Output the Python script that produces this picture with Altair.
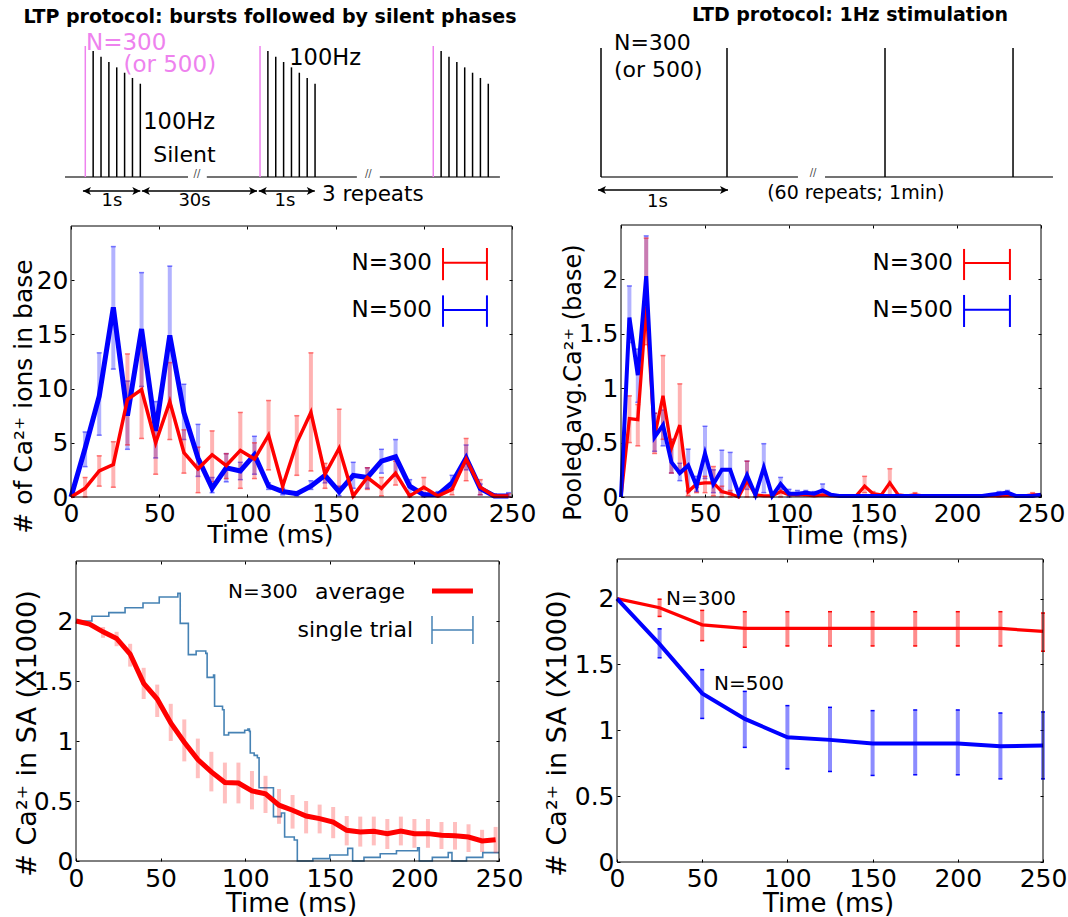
import altair as alt
import pandas as pd

W, H = 1068, 917
FONT = "DejaVu Sans"
RED, BLUE, PINK, STEEL, GREY = "#ff0000", "#0000ff", "#ee82ee", "#4682b4", "#444444"

# ---------------- data ----------------
# (c) LTP: # of Ca2+ ions in base
ltp_t = [0, 8, 16, 24, 32, 40, 48, 56, 64, 72, 80, 88, 96, 104, 112, 120,
         128, 136, 144, 152, 160, 168, 176, 184, 192, 200, 208, 216, 224, 232, 240, 248]
ltp_n500 = [0, 4.5, 9.3, 17.5, 7.5, 15.5, 6.1, 14.9, 7.8, 3.6, 0.8, 2.7, 2.4, 3.9, 1.0, 0.5,
            0.3, 1.0, 2.0, 0.5, 2.0, 1.8, 3.3, 3.7, 1.0, 0.2, 0.2, 1.3, 3.6, 0.8, 0.1, 0.1]
ltp_n300 = [0, 0.8, 2.4, 3.0, 9.0, 9.9, 5.0, 8.8, 4.1, 2.6, 3.9, 2.9, 4.3, 3.5, 5.7, 1.0,
            5.0, 7.8, 2.1, 4.5, 0.1, 1.8, 0.8, 2.2, 0.1, 0.9, 0.1, 0.7, 3.5, 0.9, 0.1, 0.1]
ltp_err_t = ltp_t[1:]
ltp_n500_lo = [2.8, 5.7, 11.8, 4.4, 10.2, 3.6, 8.4, 5.3, 1.9, 0.4, 1.4, 1.6, 2.1, 0.7, 0.2,
               0.1, 0.7, 1.3, 0.1, 0.8, 0.8, 2.2, 1.9, 0.2, 0.0, 0.1, 0.7, 2.5, 0.2, 0.0, 0.05]
ltp_n500_hi = [6.0, 13.3, 23.1, 10.7, 20.7, 8.8, 21.3, 10.4, 6.7, 1.8, 4.0, 3.2, 5.6, 1.3, 0.8,
               0.5, 1.5, 2.7, 1.0, 3.2, 2.7, 4.4, 5.3, 1.6, 0.4, 0.5, 2.0, 4.8, 1.2, 0.2, 0.4]
ltp_n300_lo = [0.0, 1.0, 0.9, 4.8, 5.4, 2.1, 5.3, 2.2, 0.4, 1.4, 1.7, 0.8, 1.7, 2.5, 0.5,
               2.0, 2.4, 0.8, 0.9, 0.0, 0.7, 0.1, 1.1, 0.0, 0.05, 0.0, 0.2, 1.5, 0.2, 0.0, 0.0]
ltp_n300_hi = [1.8, 3.8, 5.1, 13.2, 14.5, 7.8, 12.4, 6.2, 4.6, 6.1, 4.0, 7.8, 5.0, 8.9, 1.5,
               7.5, 13.3, 3.1, 8.1, 0.3, 2.7, 1.8, 3.3, 0.3, 1.8, 0.3, 1.3, 5.4, 1.6, 0.3, 0.3]

# (d) LTD: pooled avg Ca2+ in base
ltd_t = list(range(0, 251, 5))
ltd_n300 = [0, 0.72, 0.71, 1.75, 0.56, 0.93, 0.45, 0.66, 0.05, 0.12, 0.13, 0.13, 0.05, 0.03,
            0.0, 0.15, 0.02, 0.01, 0.01, 0.05, 0.02, 0.02, 0.02, 0.01, 0.02, 0.01, 0.01, 0.01,
            0.01, 0.1, 0.03, 0.02, 0.13, 0.02, 0.01, 0.02, 0.01, 0.01, 0.01, 0.01, 0.01, 0.01,
            0.01, 0.01, 0.01, 0.01, 0.01, 0.01, 0.01, 0.02, 0.02]
ltd_n500 = [0, 1.65, 1.12, 2.03, 0.55, 0.66, 0.32, 0.22, 0.29, 0.1, 0.4, 0.12, 0.25, 0.25,
            0.03, 0.2, 0.02, 0.27, 0.01, 0.12, 0.03, 0.03, 0.04, 0.03, 0.06, 0.02, 0.01, 0.01,
            0.01, 0.01, 0.01, 0.01, 0.01, 0.01, 0.01, 0.01, 0.01, 0.01, 0.01, 0.01, 0.01, 0.01,
            0.01, 0.01, 0.02, 0.03, 0.04, 0.01, 0.01, 0.01, 0.02]
ltd_n500_err_t = [5, 10, 15, 20, 25, 30, 35, 40, 45, 50, 55, 60, 65, 70, 75, 80, 85, 90, 95,
                  100, 105, 110, 115, 120, 225, 230]
ltd_n500_lo = [1.42, 0.87, 1.72, 0.42, 0.47, 0.22, 0.15, 0.05, 0.05, 0.17, 0.04, 0.04, 0.04,
               0.0, 0.07, 0.0, 0.04, 0.0, 0.07, 0.0, 0.01, 0.01, 0.01, 0.01, 0.0, 0.01]
ltd_n500_hi = [1.94, 1.36, 2.4, 0.77, 0.8, 0.53, 0.31, 0.44, 0.19, 0.65, 0.25, 0.43, 0.41,
               0.06, 0.33, 0.05, 0.49, 0.03, 0.18, 0.07, 0.06, 0.06, 0.05, 0.12, 0.05, 0.06]
ltd_n300_err_t = [5, 10, 15, 20, 25, 30, 35, 40, 45, 50, 55, 60, 65, 75, 80, 95, 145, 150,
                  160, 175, 245]
ltd_n300_lo = [0.5, 0.47, 1.4, 0.4, 0.53, 0.22, 0.22, 0.01, 0.04, 0.04, 0.01, 0.0, 0.0, 0.0,
               0.0, 0.0, 0.04, 0.01, 0.01, 0.0, 0.0]
ltd_n300_hi = [0.93, 0.85, 2.38, 0.77, 1.3, 0.53, 1.04, 0.06, 0.09, 0.19, 0.28, 0.1, 0.06,
               0.33, 0.04, 0.1, 0.19, 0.05, 0.26, 0.04, 0.04]

# (e) LTP: Ca2+ in SA (x1000), N=300
sa_t = ltp_t
sa_avg = [2.0, 1.975, 1.91, 1.855, 1.725, 1.48, 1.35, 1.15, 0.99, 0.845, 0.743, 0.654, 0.65,
          0.584, 0.56, 0.465, 0.423, 0.375, 0.353, 0.325, 0.256, 0.242, 0.248, 0.228, 0.25,
          0.228, 0.228, 0.215, 0.21, 0.2, 0.167, 0.178]
sa_err_t = ltp_t[2:]
sa_lo = [1.86, 1.79, 1.62, 1.35, 1.2, 1.0, 0.83, 0.69, 0.58, 0.48, 0.48, 0.43, 0.40, 0.31,
         0.27, 0.23, 0.23, 0.19, 0.13, 0.12, 0.13, 0.10, 0.13, 0.11, 0.11, 0.10, 0.095, 0.075,
         0.075, 0.067]
sa_hi = [1.95, 1.91, 1.81, 1.61, 1.47, 1.31, 1.18, 1.02, 0.91, 0.82, 0.82, 0.75, 0.71, 0.6,
         0.55, 0.5, 0.47, 0.45, 0.375, 0.37, 0.37, 0.35, 0.37, 0.35, 0.35, 0.325, 0.325, 0.306,
         0.26, 0.284]
trial_t = [0, 9.4, 19.4, 29.0, 39.6, 49.2, 60.2, 61.6, 66.4, 71.0, 76.7, 77.5, 81.3, 81.9,
           86.6, 87.5, 90.2, 99.7, 101.6, 102.5, 103.0, 105.3, 107.2, 108.2, 116.7, 121.4,
           123.3, 129.0, 130.8, 140.0, 150.0, 160.6, 163.5, 170.2, 179.8, 189.4, 201.9, 202.9,
           210.6, 220.0, 222.2, 230.8, 240.4, 250.0]
trial_v = [2.0, 2.04, 2.07, 2.11, 2.15, 2.2, 2.23, 1.98, 1.72, 1.75, 1.73, 1.53, 1.55, 1.29,
           1.26, 1.05, 1.07, 1.09, 1.10, 1.08, 0.90, 0.88, 0.86, 0.61, 0.37, 0.40, 0.20, 0.175,
           0.0, 0.02, 0.05, 0.105, 0.0, 0.03, 0.06, 0.085, 0.11, 0.0, 0.03, 0.07, 0.0, 0.03,
           0.07, 0.07]

# (f) LTD: Ca2+ in SA (x1000)
sa2_t = [0, 25, 50, 75, 100, 125, 150, 175, 200, 225, 250]
sa2_n300 = [2.0, 1.93, 1.80, 1.773, 1.773, 1.773, 1.773, 1.773, 1.773, 1.773, 1.75]
sa2_n500 = [2.0, 1.654, 1.28, 1.086, 0.947, 0.927, 0.9, 0.9, 0.9, 0.879, 0.884]
sa2_err_t = sa2_t[1:]
sa2_n300_lo = [1.864, 1.68, 1.63, 1.64, 1.64, 1.64, 1.64, 1.64, 1.64, 1.60]
sa2_n300_hi = [1.995, 1.91, 1.9, 1.9, 1.9, 1.9, 1.9, 1.9, 1.9, 1.89]
sa2_n500_lo = [1.55, 1.09, 0.87, 0.707, 0.687, 0.657, 0.662, 0.662, 0.631, 0.631]
sa2_n500_hi = [1.77, 1.46, 1.295, 1.187, 1.174, 1.149, 1.154, 1.154, 1.131, 1.139]

# protocol schematics
burst_starts = [0, 22.23, 44.27]
burst_heights = [1.0, 0.962, 0.918, 0.878, 0.837, 0.796, 0.756, 0.712]
ltd_spikes = [0, 1.0, 2.254, 3.27]

# ---------------- panel scales (domain, pixel range) ----------------
PAN = {
    "ltp": ([0, 250], [71, 512], [0, 25], [497, 226]),
    "ltd": ([0, 250], [621, 1041], [0, 2.5], [497, 225]),
    "sa1": ([0, 250], [76, 499], [0, 2.5], [861, 561]),
    "sa2": ([0, 250], [617, 1043], [0, 2.3], [862, 559]),
    "d1": ([0, 10], [85.3, 163.9], [0, 1], [177, 46]),
    "d2": ([0, 1], [601, 727], [0, 1], [177, 48]),
}


def sx(p):
    xd, xr, _, _ = PAN[p]
    return alt.Scale(domain=xd, range=xr, nice=False, zero=False)


def sy(p):
    _, _, yd, yr = PAN[p]
    return alt.Scale(domain=yd, range=yr, nice=False, zero=False)


def E(p, x="x", y="y", x2=None, y2=None, xaxis=None, yaxis=None):
    e = {"x": alt.X(x, type="quantitative", scale=sx(p), axis=xaxis),
         "y": alt.Y(y, type="quantitative", scale=sy(p), axis=yaxis)}
    if x2:
        e["x2"] = alt.X2(x2)
    if y2:
        e["y2"] = alt.Y2(y2)
    return e


layers = []


def line(p, t, v, color, width, interp=None):
    kw = dict(color=color, strokeWidth=width)
    if interp:
        kw["interpolate"] = interp
    layers.append(alt.Chart(pd.DataFrame({"x": t, "y": v})).mark_line(**kw).encode(**E(p)))


def errbars(p, t, lo, hi, color, opacity, width, cap_color=None, cap_opacity=1.0, cap_size=5):
    df = pd.DataFrame({"x": t, "lo": lo, "hi": hi})
    layers.append(alt.Chart(df).mark_rule(color=color, opacity=opacity, strokeWidth=width)
                  .encode(**E(p, y="lo", y2="hi")))
    if cap_color:
        caps = pd.DataFrame({"x": list(t) * 2, "y": list(lo) + list(hi)})
        layers.append(alt.Chart(caps).mark_tick(orient="horizontal", color=cap_color,
                                                opacity=cap_opacity, size=cap_size, thickness=1.5)
                      .encode(**E(p)))


def text(p, x, y, s, size, color="black", align="left", weight="normal"):
    df = pd.DataFrame({"x": [x], "y": [y], "s": [s]})
    layers.append(alt.Chart(df).mark_text(align=align, baseline="middle", font=FONT,
                                          fontSize=size, color=color, fontWeight=weight)
                  .encode(text="s:N", **E(p)))


def seg(p, x0, x1, y0, y1, color, width):
    df = pd.DataFrame({"x": [x0], "x1": [x1], "y": [y0], "y1": [y1]})
    layers.append(alt.Chart(df).mark_rule(color=color, strokeWidth=width)
                  .encode(**E(p, x2="x1", y2="y1")))


def arrow(p, x0, x1, y):
    seg(p, x0, x1, y, y, "black", 1.5)
    heads = pd.DataFrame({"x": [x0], "y": [y]})
    layers.append(alt.Chart(heads).mark_point(shape="M0,0L2,-1L1.5,0L2,1Z", filled=True,
                                              size=64, color="black", opacity=1).encode(**E(p)))
    heads = pd.DataFrame({"x": [x1], "y": [y]})
    layers.append(alt.Chart(heads).mark_point(shape="M0,0L-2,-1L-1.5,0L-2,1Z", filled=True,
                                              size=64, color="black", opacity=1).encode(**E(p)))


def axes(p, xvals, yvals, ytitle, xt, yt, lab=25, tsize=25, xtsize=25, xpad=4.4):
    xd, xr, yd, yr = PAN[p]
    L, R = xr
    B, T = yr
    df = pd.DataFrame({"x": [xd[0]], "x1": [xd[1]], "y": [yd[0]], "y1": [yd[1]]})
    common = dict(domain=False, grid=False, ticks=True, tickSize=3, tickWidth=1,
                  tickColor="black", labelFont=FONT, labelFontSize=lab, labelColor="black",
                  titleFont=FONT, titleColor="black", titleFontWeight="normal",
                  labelFlush=False, labelOverlap=False)
    xa = alt.Axis(orient="bottom", values=xvals, offset=B - 3 - H, labelPadding=xpad,
                  title="Time (ms)", titleFontSize=xtsize, titleX=xt[0], titleY=xt[1] - (B - 3),
                  titleAlign="center", titleBaseline="middle", titleAngle=0, **common)
    ya = alt.Axis(orient="left", values=yvals, offset=-(L + 3), labelPadding=3, format="~g",
                  title=ytitle, titleFontSize=tsize, titleX=yt[0] - (L + 3), titleY=yt[1],
                  titleAlign="center", titleBaseline="middle", titleAngle=270, **common)
    xb = alt.Axis(orient="top", values=xvals, offset=-(T + 3), labels=False, title="", **common)
    yb = alt.Axis(orient="right", values=yvals, offset=(R - 3) - W, labels=False, title="",
                  **common)
    layers.append(alt.Chart(df).mark_rect(opacity=0)
                  .encode(**E(p, x2="x1", y2="y1", xaxis=xb, yaxis=yb)))
    layers.append(alt.Chart(df).mark_rect(fill="transparent", stroke="black", strokeWidth=1)
                  .encode(**E(p, x2="x1", y2="y1", xaxis=xa, yaxis=ya)))


XV = [0, 50, 100, 150, 200, 250]

# ---------- top-left: LTP protocol schematic ----------
for a, b in [(-2.58, 13.07), (15.46, 34.55), (37.47, 52.75)]:
    seg("d1", a, b, 0, 0, GREY, 1.5)
spk_black = pd.DataFrame({"x": [s + k for s in burst_starts for k in range(1, 8)],
                          "y": 0, "h": [burst_heights[k] for s in burst_starts for k in range(1, 8)]})
layers.append(alt.Chart(spk_black).mark_rule(color="black", strokeWidth=1.5)
              .encode(**E("d1", y2="h")))
spk_pink = pd.DataFrame({"x": burst_starts, "y": 0, "h": burst_heights[0]})
layers.append(alt.Chart(spk_pink).mark_rule(color=PINK, strokeWidth=1.5)
              .encode(**E("d1", y2="h")))
text("d1", 14.2, 0.02, "//", 10, GREY, "center")
text("d1", 36.0, 0.02, "//", 10, GREY, "center")
arrow("d1", -0.3, 7.0, -0.107)
arrow("d1", 7.2, 21.85, -0.107)
arrow("d1", 22.07, 29.2, -0.107)
text("d1", 3.4, -0.185, "1s", 18, align="center")
text("d1", 13.9, -0.185, "30s", 18, align="center")
text("d1", 25.4, -0.185, "1s", 18, align="center")
text("d1", 30.1, -0.137, "3 repeats", 21.5)
text("d1", 0.09, 1.025, "N=300", 23, PINK)
text("d1", 4.85, 0.855, "(or 500)", 23, PINK)
text("d1", 7.38, 0.418, "100Hz", 22.5)
text("d1", 8.65, 0.168, "Silent", 22)
text("d1", 25.95, 0.906, "100Hz", 22.5)
text("d1", 23.5, 1.22, "LTP protocol: bursts followed by silent phases", 19, align="center",
     weight="bold")

# ---------- top-right: LTD protocol schematic ----------
for a, b in [(0, 1.563), (1.778, 3.587)]:
    seg("d2", a, b, 0, 0, GREY, 1.5)
spk2 = pd.DataFrame({"x": ltd_spikes, "y": 0, "h": 1.0})
layers.append(alt.Chart(spk2).mark_rule(color="black", strokeWidth=1.5).encode(**E("d2", y2="h")))
text("d2", 1.683, 0.03, "//", 10, GREY, "center")
arrow("d2", -0.024, 1.008, -0.1)
text("d2", 0.448, -0.19, "1s", 18, align="center")
text("d2", 2.022, -0.127, "(60 repeats; 1min)", 19, align="center")
text("d2", 0.103, 1.039, "N=300", 22)
text("d2", 0.103, 0.829, "(or 500)", 22)
text("d2", 1.976, 1.256, "LTD protocol: 1Hz stimulation", 19, align="center", weight="bold")

# ---------- middle-left ----------
errbars("ltp", ltp_err_t, ltp_n500_lo, ltp_n500_hi, BLUE, 0.3, 4, BLUE, 0.5, 5)
errbars("ltp", ltp_err_t, ltp_n300_lo, ltp_n300_hi, RED, 0.3, 4, RED, 0.5, 5)
line("ltp", ltp_t, ltp_n500, BLUE, 5)
line("ltp", ltp_t, ltp_n300, RED, 3.5)
text("ltp", 204.6, 21.6, "N=300", 23, align="right")
seg("ltp", 210.9, 235.8, 21.6, 21.6, RED, 2)
seg("ltp", 210.9, 210.9, 20.0, 22.97, RED, 2)
seg("ltp", 235.8, 235.8, 20.0, 22.97, RED, 2)
text("ltp", 204.6, 17.25, "N=500", 23, align="right")
seg("ltp", 210.9, 235.8, 17.25, 17.25, BLUE, 2)
seg("ltp", 210.9, 210.9, 15.7, 18.6, BLUE, 2)
seg("ltp", 235.8, 235.8, 15.7, 18.6, BLUE, 2)
axes("ltp", XV, [0, 5, 10, 15, 20], "# of Ca²⁺ ions in base", (270, 534), (23, 396),
     lab=25, tsize=25, xtsize=25, xpad=4.4)

# ---------- middle-right ----------
errbars("ltd", ltd_n500_err_t, ltd_n500_lo, ltd_n500_hi, BLUE, 0.3, 4, BLUE, 0.5, 5)
errbars("ltd", ltd_n300_err_t, ltd_n300_lo, ltd_n300_hi, RED, 0.3, 4, RED, 0.5, 5)
line("ltd", ltd_t, ltd_n300, RED, 3.3)
line("ltd", ltd_t, ltd_n500, BLUE, 4)
text("ltd", 197.6, 2.15, "N=300", 23, align="right")
seg("ltd", 204.2, 231.5, 2.15, 2.15, RED, 2)
seg("ltd", 204.2, 204.2, 1.994, 2.28, RED, 2)
seg("ltd", 231.5, 231.5, 1.994, 2.28, RED, 2)
text("ltd", 197.6, 1.72, "N=500", 23, align="right")
seg("ltd", 204.2, 231.5, 1.72, 1.72, BLUE, 2)
seg("ltd", 204.2, 204.2, 1.5625, 1.857, BLUE, 2)
seg("ltd", 231.5, 231.5, 1.5625, 1.857, BLUE, 2)
axes("ltd", XV, [0, 0.5, 1, 1.5, 2], "Pooled avg.Ca²⁺ (base)", (845, 535), (573, 382),
     lab=25, tsize=24, xtsize=25, xpad=4.4)

# ---------- bottom-left ----------
line("sa1", trial_t, trial_v, STEEL, 1.6, interp="step-after")
errbars("sa1", sa_err_t, sa_lo, sa_hi, RED, 0.25, 4)
line("sa1", sa_t, sa_avg, RED, 5)
text("sa1", 89.8, 2.242, "N=300", 20)
text("sa1", 141.3, 2.242, "average", 22)
seg("sa1", 210.4, 234.6, 2.25, 2.25, RED, 5)
text("sa1", 199.2, 1.925, "single trial", 22, align="right")
seg("sa1", 210.4, 234.6, 1.925, 1.925, STEEL, 1.5)
seg("sa1", 210.4, 210.4, 1.808, 2.042, STEEL, 1.5)
seg("sa1", 234.6, 234.6, 1.808, 2.042, STEEL, 1.5)
axes("sa1", XV, [0, 0.5, 1, 1.5, 2], "# Ca²⁺ in SA (X1000)", (291, 903), (27, 733),
     lab=25, tsize=27, xtsize=26, xpad=5.0)

# ---------- bottom-right ----------
errbars("sa2", sa2_err_t, sa2_n300_lo, sa2_n300_hi, RED, 0.45, 4, RED, 1.0, 4)
errbars("sa2", sa2_err_t, sa2_n500_lo, sa2_n500_hi, BLUE, 0.45, 4, BLUE, 1.0, 4)
line("sa2", sa2_t, sa2_n300, RED, 3.3)
line("sa2", sa2_t, sa2_n500, BLUE, 4)
text("sa2", 28.8, 2.0, "N=300", 20)
text("sa2", 56.9, 1.35, "N=500", 20)
axes("sa2", XV, [0, 0.5, 1, 1.5, 2], "# Ca²⁺ in SA (X1000)", (828, 903), (557, 733),
     lab=25, tsize=27, xtsize=26, xpad=4.2)

chart = (alt.layer(*layers)
         .resolve_scale(x="independent", y="independent")
         .resolve_axis(x="independent", y="independent")
         .properties(width=W, height=H, autosize=alt.AutoSizeParams(type="none"), padding=0,
                     background="white")
         .configure_view(stroke=None))

chart.save("out.html", embed_options={"renderer": "svg", "actions": False})
